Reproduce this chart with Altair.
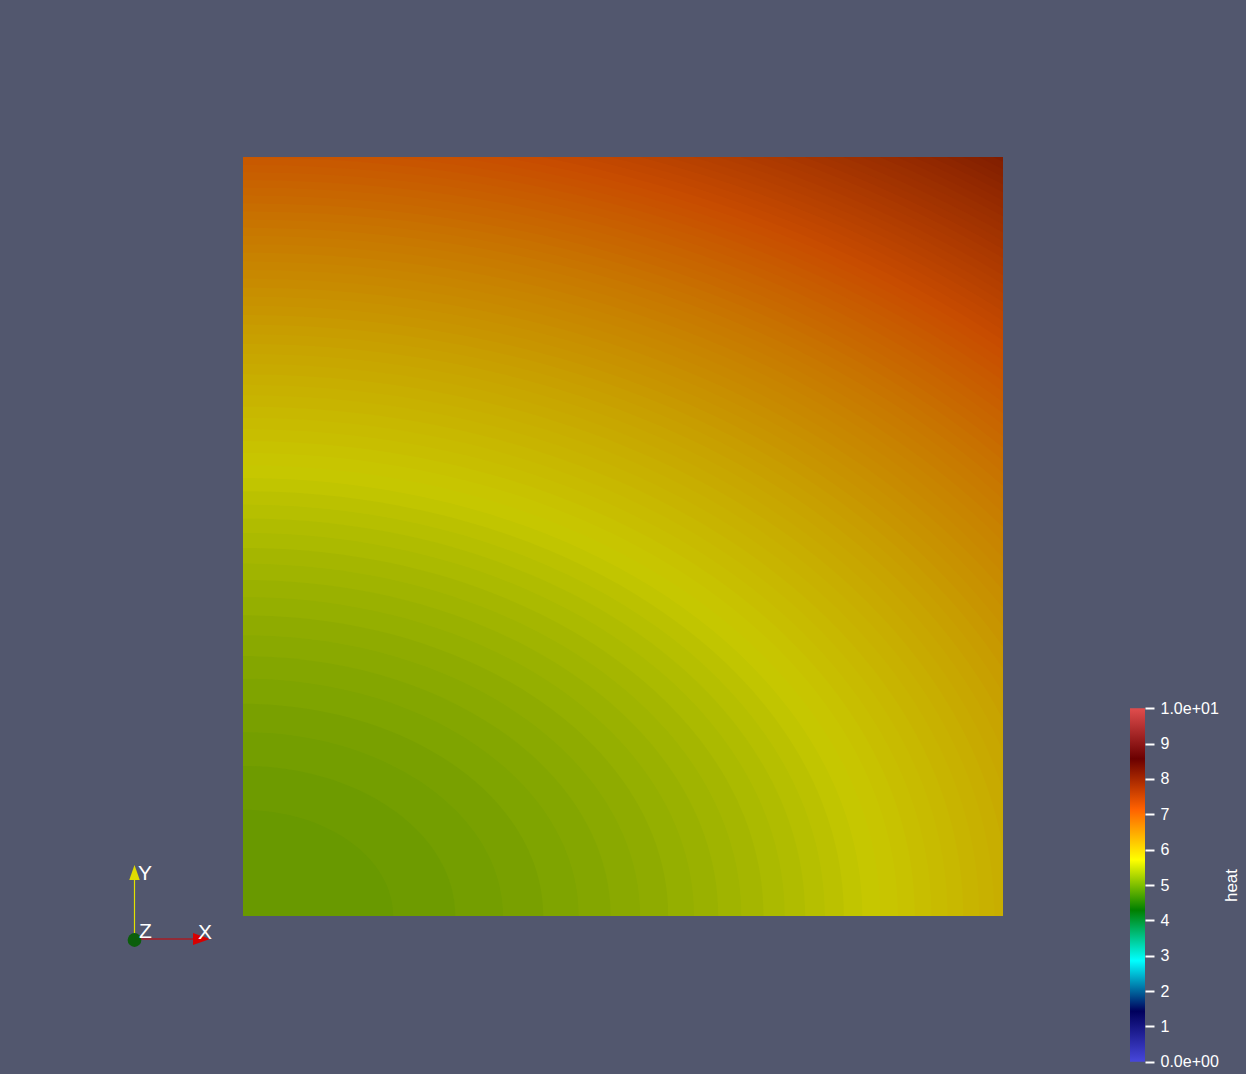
import altair as alt
import pandas as pd

# ---------------- data ----------------
# colour map (ParaView "Rainbow Desaturated") for heat 0..10
cmap_values = [0.0, 1.4286, 2.8571, 4.2857, 5.7143, 7.1429, 8.5714, 10.0]
cmap_colors = ["#4747db", "#00005c", "#00ffff", "#008000",
               "#ffff00", "#ff6100", "#6b0000", "#e04d4d"]

# colour bar ticks and labels
colorbar_ticks = [0, 1, 2, 3, 4, 5, 6, 7, 8, 9, 10]
colorbar_range = [0.0, 10.0]
colorbar_title = "heat"

# plate extent (data units) and heat at the bottom-left corner
plate_x = [0.0, 1.0]
plate_y = [0.0, 1.0]
heat_origin = 5.0

# heat levels of the visible colour bands (contours centred on the bottom-left corner)
band_heat = [
    5.039, 5.078, 5.117, 5.156, 5.195, 5.234, 5.273, 5.313, 5.352, 5.391,
    5.430, 5.469, 5.508, 5.547, 5.586, 5.625, 5.664, 5.703, 5.742, 5.781,
    5.820, 5.859, 5.898, 5.938, 5.977, 6.016, 6.055, 6.094, 6.133, 6.172,
    6.211, 6.250, 6.289, 6.328, 6.367, 6.406, 6.445, 6.484, 6.523, 6.563,
    6.602, 6.641, 6.680, 6.719, 6.758, 6.797, 6.836, 6.875, 6.914, 6.953,
    6.992, 7.031, 7.070, 7.109, 7.148, 7.188, 7.227, 7.266, 7.305, 7.344,
    7.383, 7.422, 7.461, 7.500, 7.539, 7.578, 7.617, 7.656, 7.695, 7.734,
    7.773, 7.813, 7.852, 7.891, 7.930, 7.969, 8.008,
]

# ---------------- layout constants ----------------
PLOT_W, PLOT_H = 760, 759
BG = "#52576e"
FONT = "Liberation Sans"

bands = pd.DataFrame({"heat": band_heat})
plate = pd.DataFrame({"x0": [plate_x[0]], "x1": [plate_x[1]],
                      "y0": [plate_y[0]], "y1": [plate_y[1]]})
cbar = pd.DataFrame({"lo": [colorbar_range[0]], "hi": [colorbar_range[1]]})

xs = alt.Scale(domain=plate_x)
ys = alt.Scale(domain=plate_y)
color_scale = alt.Scale(domain=cmap_values, range=cmap_colors, interpolate="rgb")

# ellipse symbol (x radius 1, y radius 1/sqrt(2)); size maps heat to area
ELLIPSE = "M-1,0A1,0.7071,0,1,0,1,0A1,0.7071,0,1,0,-1,0Z"
span = 4.0
size_scale = alt.Scale(type="linear", domain=[heat_origin, heat_origin + span],
                       range=[0, (2 * PLOT_W) ** 2 * span])

field = alt.Chart(bands).mark_point(
    shape=ELLIPSE, filled=True, opacity=1, strokeWidth=0, clip=True
).encode(
    x=alt.XDatum(plate_x[0], type="quantitative", scale=xs, axis=None),
    y=alt.YDatum(plate_y[0], type="quantitative", scale=ys, axis=None),
    size=alt.Size("heat:Q", scale=size_scale, legend=None),
    color=alt.Color("heat:Q", scale=color_scale, legend=None),
    order=alt.Order("heat:Q", sort="descending"),
)

# diffuse lighting of the rendered surface
shade = alt.Chart(plate).mark_rect(color="black", opacity=0.215).encode(
    x=alt.X("x0:Q", scale=xs, axis=None), x2="x1:Q",
    y=alt.Y("y0:Q", scale=ys, axis=None), y2="y1:Q",
)

# colour bar
grad = alt.LinearGradient(
    gradient="linear",
    stops=[alt.GradientStop(color=c, offset=v / colorbar_range[1])
           for v, c in zip(cmap_values, cmap_colors)],
    x1=0, x2=0, y1=1, y2=0,
)
colorbar = alt.Chart(cbar).mark_rect(color=grad).encode(
    x=alt.value(887), x2=alt.value(902),
    y=alt.Y("lo:Q",
            scale=alt.Scale(domain=colorbar_range, range=[904.7, 551.3]),
            axis=alt.Axis(
                orient="right", offset=142, values=colorbar_ticks,
                labelExpr="datum.value == 10 ? '1.0e+01' : datum.value == 0 ? '0.0e+00' : datum.label",
                domain=False, grid=False,
                tickColor="white", tickSize=9, tickWidth=2,
                labelColor="white", labelFont=FONT, labelFontSize=16,
                labelPadding=6, labelOverlap=False, labelFlush=False,
                title=colorbar_title, titleColor="white", titleFont=FONT,
                titleFontSize=17, titleFontWeight="normal", titleAngle=270,
                titleAlign="center", titleBaseline="middle",
                titleX=86, titleY=728,
            )),
    y2="hi:Q",
)

# orientation triad
y_line = alt.Chart(plate).mark_rule(color="#e2e200", strokeWidth=1.2).encode(
    x=alt.value(-108.5), y=alt.value(721), y2=alt.value(782))
x_line = alt.Chart(plate).mark_rule(color="#d00000", strokeWidth=1.2).encode(
    x=alt.value(-108.5), x2=alt.value(-50), y=alt.value(782))
y_cone = alt.Chart(plate).mark_point(
    shape="M0,-1L-0.7,1L0.7,1Z", filled=True, opacity=1, size=225,
    color="#e0dc00").encode(x=alt.value(-108.5), y=alt.value(715.5))
x_cone = alt.Chart(plate).mark_point(
    shape="M1,0L-1,-0.7L-1,0.7Z", filled=True, opacity=1, size=289,
    color="#d80000").encode(x=alt.value(-41.5), y=alt.value(782))
z_ball = alt.Chart(plate).mark_point(
    shape="circle", filled=True, opacity=1, size=190,
    color="#0b5e0b").encode(x=alt.value(-108.5), y=alt.value(783))
tx = alt.Chart(plate).mark_text(text="X", color="white", font=FONT, fontSize=21,
                                align="left", baseline="alphabetic").encode(
    x=alt.value(-45), y=alt.value(782))
ty = alt.Chart(plate).mark_text(text="Y", color="white", font=FONT, fontSize=21,
                                align="left", baseline="alphabetic").encode(
    x=alt.value(-105), y=alt.value(723))
tz = alt.Chart(plate).mark_text(text="Z", color="white", font=FONT, fontSize=21,
                                align="left", baseline="alphabetic").encode(
    x=alt.value(-104), y=alt.value(781))

chart = alt.layer(
    field, shade, colorbar, y_line, x_line, y_cone, x_cone, z_ball, tx, ty, tz
).resolve_scale(y="independent").properties(
    width=PLOT_W, height=PLOT_H,
    padding={"left": 243, "top": 157, "right": 243, "bottom": 158},
    autosize=alt.AutoSizeParams(type="none"),
).configure(background=BG).configure_view(stroke=None)

chart.save("out.html", embed_options={"renderer": "svg", "actions": False})
